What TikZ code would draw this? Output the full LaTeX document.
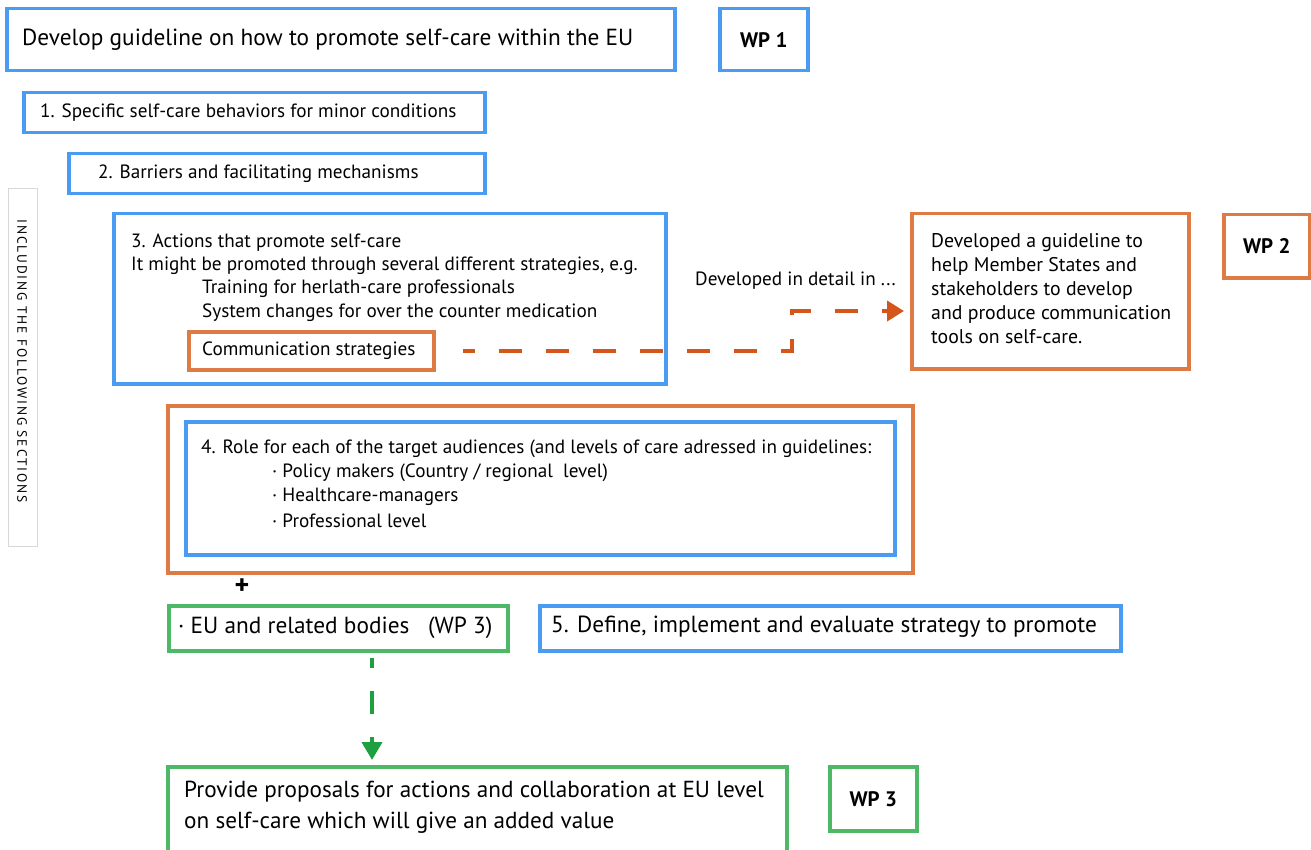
\documentclass[tikz,border=0pt]{standalone}
\usepackage{fontspec}
\setmainfont{PT Sans}
\usetikzlibrary{arrows.meta}
\definecolor{wpblue}{HTML}{4A9CF2}
\definecolor{wporange}{HTML}{DE7B45}
\definecolor{wpgreen}{HTML}{4DB866}
\definecolor{arrorange}{HTML}{D4561A}
\definecolor{arrgreen}{HTML}{1FA040}
\definecolor{sidegray}{HTML}{D8D8D8}
\tikzset{
  box/.style={draw, line width=3.5pt, minimum width=#1, inner sep=0pt, anchor=north west},
  bluebox/.style={box=#1, draw=wpblue},
  orangebox/.style={box=#1, draw=wporange},
  greenbox/.style={box=#1, draw=wpgreen},
  txt/.style={inner sep=0pt, anchor=west, yshift=-2pt, font=\fontsize{19.2}{24}\selectfont},
  bigtxt/.style={inner sep=0pt, anchor=west, yshift=-1pt, font=\fontsize{23.3}{30}\selectfont},
  wplabel/.style={font=\fontsize{21}{25}\selectfont\bfseries},
}
\begin{document}
\begin{tikzpicture}[x=1pt,y=-1pt]
\useasboundingbox (0,0) rectangle (1311,850);

% WP 1 block
\node[bluebox=668pt, minimum height=62pt] (top) at (5,7) {};
\node[bigtxt] (toptxt) at (22,39) {Develop guideline on how to promote self-care within the EU};
\node[bluebox=88pt, minimum height=62pt] (wp1) at (718,7) {};
\node[wplabel] (wp1txt) at (wp1.center) {WP 1};

\node[bluebox=461pt, minimum height=40pt] (s1) at (22,91) {};
\node[txt] (s1txt) at (40,111) {1. Specific self-care behaviors for minor conditions};

\node[bluebox=416pt, minimum height=40pt] (s2) at (67,152) {};
\node[txt] (s2txt) at (98,172) {2. Barriers and facilitating mechanisms};

% side label
\node[draw=sidegray, line width=1pt, minimum width=29pt, minimum height=358pt, anchor=north west, inner sep=0pt] (side) at (8,188) {};
\node[rotate=-90, inner sep=0pt, font=\fontsize{13.5}{14}\selectfont\addfontfeature{LetterSpace=14}] (sidetxt) at (22,361) {INCLUDING THE FOLLOWING SECTIONS};

% section 3
\node[bluebox=552pt, minimum height=170pt] (s3) at (112,212) {};
\node[txt] (s3a) at (131,241) {3. Actions that promote self-care};
\node[txt] (s3b) at (131,264) {It might be promoted through several different strategies, e.g.};
\node[txt] (s3c) at (202,287) {Training for herlath-care professionals};
\node[txt] (s3d) at (202,311) {System changes for over the counter medication};
\node[orangebox=245pt, minimum height=38pt] (comm) at (187,330) {};
\node[txt] (commtxt) at (202,349) {Communication strategies};

% WP 2 block
\node[orangebox=277pt, minimum height=155pt] (wp2box) at (910,212) {};
\node[inner sep=0pt, anchor=north west, align=left, font=\fontsize{19.8}{24}\selectfont] (wp2txt) at (931,233)
  {Developed a guideline to\\help Member States and\\stakeholders to develop\\and produce communication\\tools on self-care.};
\node[orangebox=86pt, minimum height=63pt] (wp2) at (1222,213) {};
\node[wplabel] (wp2txt2) at (wp2.center) {WP 2};

\node[txt] (detail) at (695,279) {Developed in detail in ...};
\coordinate (turn) at (792,311);
\draw[arrorange, line width=4pt, dash pattern=on 23pt off 24pt, dash phase=11pt,
      shorten <=27pt, shorten >=6pt, -{Triangle[length=17pt,width=20pt]}]
  (comm.east) -| (turn) -- (wp2box.west |- turn);

% section 4
\node[orangebox=745pt, minimum height=167pt] (s4out) at (166,404) {};
\node[bluebox=709pt, minimum height=133pt] (s4) at (184,420) {};
\node[txt] (s4a) at (201,447) {4. Role for each of the target audiences (and levels of care adressed in guidelines:};
\node[txt] (s4b) at (272,471) {· Policy makers (Country / regional\ \ level)};
\node[txt] (s4c) at (272,495) {· Healthcare-managers};
\node[txt] (s4d) at (272,519) {· Professional level};

\node[font=\fontsize{28}{30}\selectfont\bfseries, inner sep=0pt] (plus) at (242,587) {+};

\node[greenbox=339pt, minimum height=45pt] (eu) at (167,604) {};
\node[bigtxt] (eutxt) at (178,627) {· EU and related bodies\ \ \ (WP 3)};
\node[bluebox=581pt, minimum height=45pt] (s5) at (538,604) {};
\node[bigtxt] (s5txt) at (551,626) {5. Define, implement and evaluate strategy to promote};

% WP 3 block
\coordinate (gx) at (372,0);
\node[greenbox=619pt, minimum height=90pt] (prop) at (166,765) {};
\node[inner sep=0pt, anchor=north west, align=left, font=\fontsize{23.2}{31}\selectfont] (proptxt) at (184,781)
  {Provide proposals for actions and collaboration at EU level\\on self-care which will give an added value};
\node[greenbox=87pt, minimum height=64pt] (wp3) at (828,765) {};
\node[wplabel] (wp3txt) at (wp3.center) {WP 3};

\draw[arrgreen, line width=4pt, dash pattern=on 23pt off 23pt, dash phase=13pt,
      shorten <=5pt, shorten >=5pt, -{Triangle[length=18pt,width=20pt]}]
  (eu.south -| gx) -- (prop.north -| gx);
\end{tikzpicture}
\end{document}
